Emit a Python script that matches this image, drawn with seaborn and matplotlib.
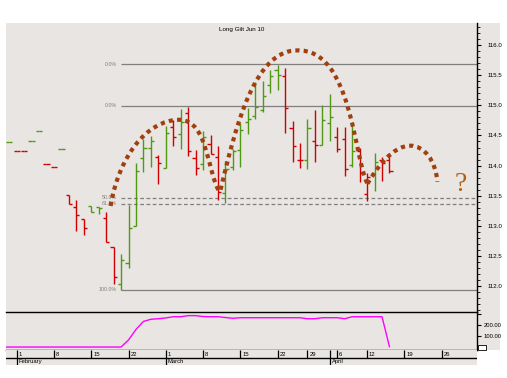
import numpy as np
import pandas as pd
import matplotlib
matplotlib.use("Agg")
import matplotlib.pyplot as plt
from matplotlib.path import Path
from matplotlib.patches import PathPatch, Rectangle
from matplotlib.ticker import MultipleLocator, FormatStrFormatter
import seaborn as sns

plt.rcParams['font.family'] = ['Liberation Sans', 'DejaVu Sans']

# ---- data -------------------------------------------------------------
# trading-day index, 0 = Mon 1 Feb 2010 (holidays skipped)
days = list(range(-1, 51))
opens = [114.39, 114.25, 114.25, 114.40, 114.57, 114.03, 113.97, 114.27,
         113.51, 113.31, 113.11, 113.33, 113.31, 113.13, 112.65, 112.03,
         112.38, 113.00, 114.12, 114.30, 114.15, 113.96, 114.64, 114.52,
         114.88, 114.12, 114.02, 114.35, 114.15, 113.54, 113.98, 114.26,
         114.72, 114.82, 114.93, 115.33, 115.58, 115.49, 114.62, 114.10,
         114.09, 114.41, 114.34, 114.70, 114.47, 114.44, 114.01, 114.25,
         113.53, 113.87, 114.10, 114.09]
highs = [114.39, 114.25, 114.25, 114.40, 114.57, 114.03, 113.97, 114.27,
         113.51, 113.43, 113.11, 113.33, 113.31, 113.23, 112.65, 112.53,
         113.35, 114.04, 114.44, 114.49, 114.18, 114.65, 114.76, 114.94,
         114.98, 114.26, 114.57, 114.51, 114.33, 114.08, 114.28, 114.70,
         114.95, 115.39, 115.41, 115.59, 115.67, 115.62, 114.74, 114.37,
         114.77, 114.92, 115.00, 115.19, 114.64, 114.64, 114.72, 114.30,
         113.88, 114.21, 114.15, 114.21]
lows = [114.39, 114.25, 114.25, 114.40, 114.57, 114.03, 113.97, 114.27,
        113.36, 112.92, 112.85, 113.23, 113.19, 112.74, 112.03, 111.93,
        112.30, 112.99, 113.90, 113.98, 113.69, 113.96, 114.33, 114.28,
        114.16, 113.84, 113.92, 114.19, 113.43, 113.38, 113.92, 113.98,
        114.52, 114.77, 114.89, 115.20, 115.25, 114.54, 114.06, 113.96,
        113.94, 114.06, 114.34, 114.40, 114.22, 113.82, 113.97, 113.73,
        113.42, 113.58, 113.75, 113.87]
closes = [114.39, 114.25, 114.25, 114.40, 114.57, 114.03, 113.97, 114.27,
          113.36, 113.18, 112.96, 113.23, 113.30, 112.74, 112.15, 112.43,
          112.96, 113.91, 114.30, 114.40, 114.04, 114.54, 114.47, 114.72,
          114.24, 113.96, 114.47, 114.19, 113.57, 113.95, 114.25, 114.59,
          114.77, 114.97, 115.15, 115.49, 115.51, 114.95, 114.32, 114.09,
          114.62, 114.34, 114.75, 114.80, 114.27, 113.94, 114.25, 113.87,
          113.81, 114.06, 114.05, 113.91]

oi_days = list(range(-2, 51))
oi_vals = ([0] * 17 +
           [64, 159, 232, 252, 257, 264, 275, 275, 285, 285, 277, 275, 275, 268, 261] +
           [266] * 9 + [257, 257, 266, 266, 266, 257] + [275] * 5 + [3])

week_pos = [0, 5, 10, 15, 20, 25, 30, 35, 39, 43, 47, 52, 57]
week_lbl = ["1", "8", "15", "22", "1", "8", "15", "22", "29", "6", "12", "19", "26"]
month_pos = [0, 20, 42]
month_lbl = ["February", "March", "April"]

fib_levels = [115.68, 114.99, 113.47, 113.37, 111.94]
fib_labels = ["0.0%", "0.0%", "50.0%", "61.8%", "100.0%"]
fib_dashed = [False, False, True, True, False]
fib_start = 14

# hand drawn arcs (bezier anchors, day index / price)
arc1_x = [12.60, 13.58, 17.20, 21.89, 25.64, 25.51, 27.12]
arc1_y = [113.33, 114.09, 114.76, 114.76, 114.74, 113.93, 113.58]
arc2_x = [27.35, 29.40, 31.94, 37.57, 44.95, 45.21, 47.05]
arc2_y = [113.60, 114.67, 115.91, 115.91, 115.95, 114.13, 113.70]
arc3_x = [47.05, 48.16, 50.31, 52.82, 54.60, 56.21, 56.43]
arc3_y = [113.70, 113.93, 114.33, 114.33, 114.33, 114.09, 113.73]

# ---- layout -----------------------------------------------------------
W, H = 507, 378
bg = '#E8E5E2'
green = '#4F9A12'
red = '#D00000'
XMIN, XMAX = -1.43, 61.7


def box(x0, y0, x1, y1):
    return [x0 / W, 1 - y1 / H, (x1 - x0) / W, (y1 - y0) / H]


fig = plt.figure(figsize=(W / 100, H / 100), dpi=100, facecolor='white')
fig.patches.append(Rectangle((6 / W, 1 - 350 / H), 494 / W, 327 / H,
                             transform=fig.transFigure, facecolor=bg,
                             edgecolor='none', zorder=-1))
# little scale button under the lower axis
fig.patches.append(Rectangle((477.5 / W, 1 - 350 / H), 8.5 / W, 5.5 / H,
                             transform=fig.transFigure, facecolor='white',
                             edgecolor='black', lw=0.6, zorder=3))

ax = fig.add_axes(box(6, 23, 476.7, 312))
ax_oi = fig.add_axes(box(6, 312, 476.7, 350))
ax_dt = fig.add_axes(box(6, 350, 476.7, 365))
for a in (ax, ax_oi, ax_dt):
    a.set_facecolor(bg)
    a.set_xlim(XMIN, XMAX)
    a.set_xticks([])

# ---- price bars -------------------------------------------------------
df = pd.DataFrame(dict(day=days, open=opens, high=highs, low=lows, close=closes))
up = df['close'].gt(df['close'].shift()).to_numpy()
up[0] = True
cols = np.where(up, green, red)
ax.vlines(df['day'], df['low'], df['high'], colors=cols, lw=1)
ax.hlines(df['open'], df['day'] - 0.42, df['day'], colors=cols, lw=1)
ax.hlines(df['close'], df['day'], df['day'] + 0.42, colors=cols, lw=1)

for lvl, lab, dashed in zip(fib_levels, fib_labels, fib_dashed):
    ax.hlines(lvl, fib_start, XMAX, colors='#7f7f7f', lw=0.9,
              linestyles=(0, (3, 2)) if dashed else 'solid', zorder=1)
    ax.annotate(lab, (fib_start, lvl), xytext=(-3, 0), textcoords='offset points',
                ha='right', va='center', fontsize=3.8, color='#808080')

for xs, ys in [(arc1_x, arc1_y), (arc2_x, arc2_y), (arc3_x, arc3_y)]:
    path = Path(list(zip(xs, ys)), [Path.MOVETO] + [Path.CURVE4] * 6)
    ax.add_patch(PathPatch(path, fill=False, edgecolor='#A0400F', lw=3.0,
                           linestyle=(0, (1, 1.0)), capstyle='butt', zorder=5))

ax.text(59.56, 113.68, '?', fontsize=20, family='Liberation Serif',
        color='#B0601A', ha='center', va='center')
ax.text(0.5, 1 - 6 / 289, 'Long Gilt Jun 10', transform=ax.transAxes,
        ha='center', va='center', fontsize=4.5)

ax.set_ylim(111.572, 116.365)
ax.yaxis.tick_right()
ax.yaxis.set_major_locator(MultipleLocator(0.5))
ax.yaxis.set_minor_locator(MultipleLocator(0.1))
ax.yaxis.set_major_formatter(FormatStrFormatter('%.1f'))
ax.tick_params(axis='y', which='major', length=3, width=0.8, pad=4.5, labelsize=4.4)
ax.tick_params(axis='y', which='minor', length=2, width=0.6)
for s in ('left', 'top', 'bottom'):
    ax.spines[s].set_visible(False)
ax.spines['right'].set_linewidth(1)

# ---- lower panel ------------------------------------------------------
sns.lineplot(x=oi_days, y=oi_vals, ax=ax_oi, color='#FF00FF', lw=1)
ax_oi.set_xlim(XMIN, XMAX)
ax_oi.set_ylim(-27, 318)
ax_oi.yaxis.tick_right()
ax_oi.set_yticks([100, 200, 300])
ax_oi.set_yticklabels(['100.00', '200.00', ''])
ax_oi.tick_params(axis='y', length=3, width=0.8, pad=2, labelsize=4.2)
ax_oi.set_xticks([])
ax_oi.set_xlabel('')
ax_oi.set_ylabel('')
ax_oi.spines['left'].set_visible(False)
for s in ('top', 'right', 'bottom'):
    ax_oi.spines[s].set_linewidth(1)

# ---- date rows --------------------------------------------------------
ax_dt.set_ylim(0, 15)
ax_dt.set_yticks([])
for s in ax_dt.spines.values():
    s.set_visible(False)
ax_dt.axhline(7, color='black', lw=1)
ax_dt.vlines(week_pos + [42], 7, 15, colors='black', lw=0.9)
ax_dt.vlines(month_pos, 0, 7, colors='black', lw=0.9)
for p, lab in zip(week_pos, week_lbl):
    ax_dt.text(p + 0.25, 11, lab, fontsize=4.2, ha='left', va='center')
for p, lab in zip(month_pos, month_lbl):
    ax_dt.text(p + 0.25, 3.5, lab, fontsize=4.2, ha='left', va='center')

fig.savefig('out.png', dpi=100, facecolor='white')
